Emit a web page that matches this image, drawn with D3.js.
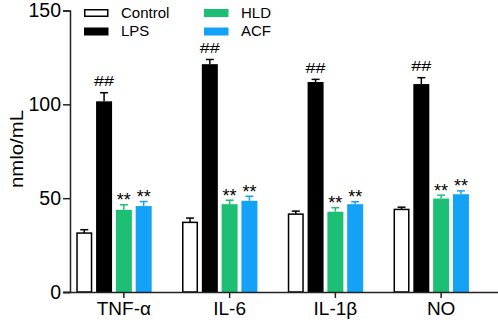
<!DOCTYPE html>
<html>
<head>
<meta charset="utf-8">
<script src="https://cdn.jsdelivr.net/npm/d3@7"></script>
<style>
  body { margin: 0; background: #fff; }
  svg { display: block; font-family: Arial, "Liberation Sans", sans-serif; }
</style>
</head>
<body>
<div id="chart"></div>
<script>
// 数据
const categories = ["TNF-α", "IL-6", "IL-1β", "NO"];
const groups = ["Control", "LPS", "HLD", "ACF"];
const colors = ["#ffffff", "#000000", "#1dbf74", "#14a2f7"];
const means = {
    Control: [31.4, 37.1, 41.5, 44.0],
    LPS:     [101.6, 121.4, 111.9, 110.8],
    HLD:     [43.8, 46.8, 42.8, 49.8],
    ACF:     [45.8, 48.6, 46.8, 52.1]
};
const errors = {
    Control: [1.8, 2.3, 1.6, 1.2],
    LPS:     [4.6, 2.5, 1.4, 3.4],
    HLD:     [2.7, 2.1, 2.1, 1.8],
    ACF:     [2.4, 2.4, 1.3, 1.8]
};
const marks = { Control: "", LPS: "##", HLD: "**", ACF: "**" };
const yTicks = [0, 50, 100, 150];

const width = 498;
const height = 323;
const font = "Arial, 'Liberation Sans', sans-serif";

const svg = d3.select("#chart")
    .append("svg")
    .attr("width", width)
    .attr("height", height);

// 比例尺
const x = d3.scaleBand()
    .domain(categories)
    .range([71, 494]);

const y = d3.scaleLinear()
    .domain([0, 150])
    .range([292, 10.5]);

const barW = 16;
const barStep = 19.8;
const offset = i => (i - 2) * barStep - barW / 2;

// 柱子
groups.forEach((g, i) => {
    const gg = svg.append("g");
    categories.forEach((c, j) => {
        const cx = x(c) + x.bandwidth() / 2;
        const bx = cx + offset(i);
        const v = means[g][j];
        const e = errors[g][j];
        const stroke = g === "Control" ? "#000" : colors[i];
        gg.append("line")
            .attr("x1", bx + barW / 2).attr("x2", bx + barW / 2)
            .attr("y1", y(v)).attr("y2", y(v + e))
            .attr("stroke", stroke).attr("stroke-width", 1.5);
        gg.append("line")
            .attr("x1", bx + barW / 2 - 4).attr("x2", bx + barW / 2 + 4)
            .attr("y1", y(v + e)).attr("y2", y(v + e))
            .attr("stroke", stroke).attr("stroke-width", 1.5);
        gg.append("rect")
            .attr("x", g === "Control" ? bx + 0.75 : bx)
            .attr("width", g === "Control" ? barW - 1.5 : barW)
            .attr("y", y(v))
            .attr("height", y(0) - y(v))
            .attr("fill", colors[i])
            .attr("stroke", g === "Control" ? "#000" : "none")
            .attr("stroke-width", 1.5);
        if (marks[g]) {
            const t = gg.append("text")
                .attr("x", bx + barW / 2)
                .attr("text-anchor", "middle")
                .attr("fill", "#000")
                .text(marks[g]);
            if (g === "LPS") {
                t.attr("y", y(v + e) - 6.5)
                    .attr("font-size", 14)
                    .attr("textLength", 20)
                    .attr("lengthAdjust", "spacingAndGlyphs");
            } else {
                t.attr("y", y(v + e) + 1.5)
                    .attr("font-size", 18);
            }
        }
    });
});

// y 轴
svg.append("g")
    .attr("transform", "translate(70,0)")
    .call(d3.axisLeft(y).tickValues(yTicks).tickSize(7).tickPadding(2))
    .call(g => g.selectAll("text").attr("font-size", 19.5).attr("fill", "#000").attr("font-family", font))
    .call(g => g.selectAll("line, path").attr("stroke", "#222").attr("stroke-width", 1.5));

// x 轴
svg.append("g")
    .attr("transform", "translate(0,292)")
    .call(d3.axisBottom(x).tickSize(6).tickPadding(4).tickSizeOuter(0))
    .call(g => g.select(".domain").attr("d", "M64,0.5H498"))
    .call(g => g.selectAll("text").attr("font-size", 19).attr("fill", "#000").attr("font-family", font))
    .call(g => g.selectAll("line, path").attr("stroke", "#222").attr("stroke-width", 1.5));

// y 轴标题
svg.append("text")
    .attr("transform", "translate(23,149) rotate(-90)")
    .attr("text-anchor", "middle")
    .attr("font-size", 18)
    .attr("textLength", 78)
    .attr("lengthAdjust", "spacingAndGlyphs")
    .text("nmlo/mL");

// 图例
const legend = svg.append("g");
groups.forEach((g, i) => {
    const col = Math.floor(i / 2);
    const row = i % 2;
    const lx = 84 + col * 120;
    const ly = 9 + row * 18.5;
    legend.append("rect")
        .attr("x", g === "Control" ? lx + 0.75 : lx)
        .attr("y", g === "Control" ? ly + 0.75 : ly)
        .attr("width", g === "Control" ? 23 : 24.5)
        .attr("height", g === "Control" ? 6.5 : 8)
        .attr("fill", colors[i])
        .attr("stroke", g === "Control" ? "#000" : "none")
        .attr("stroke-width", 1.5);
    legend.append("text")
        .attr("x", lx + 37)
        .attr("y", ly + 8.5)
        .attr("font-size", 15)
        .text(g);
});
</script>
</body>
</html>
